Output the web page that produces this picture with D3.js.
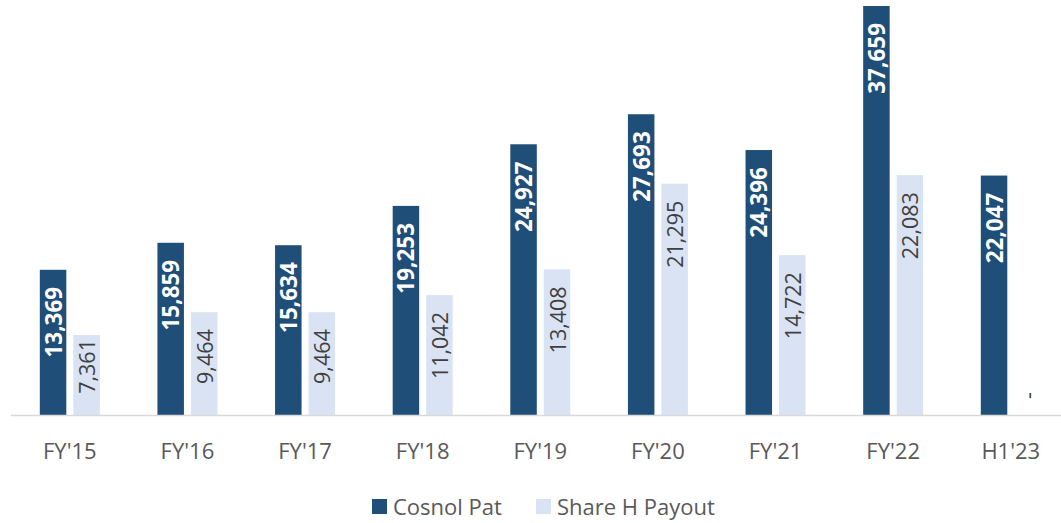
<!DOCTYPE html>
<html>
<head>
<meta charset="utf-8">
<script src="https://cdn.jsdelivr.net/npm/d3@7/dist/d3.min.js"></script>
<style>
  html, body { margin: 0; padding: 0; background: #fff; }
  svg { display: block; font-family: "Open Sans", "Noto Sans", sans-serif; }
</style>
</head>
<body>
<svg id="chart" width="1061" height="523"></svg>
<script>
// Fiscal periods on the category axis
const categories = ["FY'15", "FY'16", "FY'17", "FY'18", "FY'19", "FY'20", "FY'21", "FY'22", "H1'23"];
// Series names
const seriesNames = ["Cosnol Pat", "Share H Payout"];
// Consolidated PAT
const cosnolPat = [13369, 15859, 15634, 19253, 24927, 27693, 24396, 37659, 22047];
// Shareholder payout (no figure yet for H1'23)
const sharePayout = [7361, 9464, 9464, 11042, 13408, 21295, 14722, 22083, null];

const colors = { "Cosnol Pat": "#1F4E79", "Share H Payout": "#DAE3F3" };
const labelColors = { "Cosnol Pat": "#FFFFFF", "Share H Payout": "#404040" };
const labelWeights = { "Cosnol Pat": 700, "Share H Payout": 400 };
const labelSizes = { "Cosnol Pat": 22.5, "Share H Payout": 21.5 };

const svg = d3.select("#chart");
const baseY = 415;

const x0 = d3.scaleBand().domain(categories).range([11, 1069.6]).paddingInner(0).paddingOuter(0);
const bw = x0.bandwidth();
const x1 = d3.scaleBand().domain(seriesNames).range([bw / 2 - 30, bw / 2 + 30]).paddingInner(0.209).paddingOuter(0);
const y = d3.scaleLinear().domain([0, 37659]).range([baseY, 6]);

const fmt = d3.format(",");

const rows = categories.map((c, i) => ({
  cat: c,
  values: [
    { key: seriesNames[0], v: cosnolPat[i] },
    { key: seriesNames[1], v: sharePayout[i] }
  ]
}));

const groups = svg.append("g").selectAll("g")
  .data(rows).join("g")
  .attr("transform", d => `translate(${x0(d.cat)},0)`);

// Bars
groups.selectAll("rect")
  .data(d => d.values.filter(e => e.v != null))
  .join("rect")
  .attr("x", e => x1(e.key))
  .attr("width", x1.bandwidth())
  .attr("y", e => y(e.v))
  .attr("height", e => baseY - y(e.v))
  .attr("fill", e => colors[e.key]);

// Baseline
svg.append("line")
  .attr("x1", 11).attr("x2", 1061)
  .attr("y1", baseY + 0.5).attr("y2", baseY + 0.5)
  .attr("stroke", "#D9D9D9").attr("stroke-width", 1.5);

// Rotated value labels near the top of each bar
groups.selectAll("text.val")
  .data(d => d.values)
  .join("text")
  .attr("class", "val")
  .attr("transform", e => {
    const cx = x1(e.key) + x1.bandwidth() / 2;
    let top;
    if (e.v == null) top = y(0) - 23;
    else if (baseY - y(e.v) < 90) top = y(e.v) + 4;   // short bars: label hugs the top
    else top = y(e.v) + 17;
    return `translate(${cx},${top}) rotate(-90)`;
  })
  .attr("text-anchor", "end")
  .attr("dominant-baseline", "central")
  .attr("fill", e => labelColors[e.key])
  .attr("font-weight", e => labelWeights[e.key])
  .attr("font-size", e => labelSizes[e.key])
  .text(e => e.v == null ? "-" : fmt(e.v));

// Category axis
const axis = svg.append("g")
  .attr("transform", `translate(0,${baseY})`)
  .call(d3.axisBottom(x0).tickSize(0).tickPadding(0));
axis.select(".domain").remove();
axis.selectAll("text")
  .attr("y", 36)
  .attr("dy", "0.35em")
  .attr("font-size", 22)
  .attr("font-family", "\"Open Sans\", sans-serif")
  .attr("fill", "#595959");

// Legend
const legendItems = [
  { key: seriesNames[0], x: 372 },
  { key: seriesNames[1], x: 536 }
];
const legend = svg.append("g");
legendItems.forEach(it => {
  legend.append("rect")
    .attr("x", it.x).attr("y", 499)
    .attr("width", 15).attr("height", 15)
    .attr("fill", colors[it.key]);
  legend.append("text")
    .attr("x", it.x + 21).attr("y", 507)
    .attr("dy", "0.35em")
    .attr("font-size", 22)
    .attr("fill", "#595959")
    .text(it.key);
});
</script>
</body>
</html>
